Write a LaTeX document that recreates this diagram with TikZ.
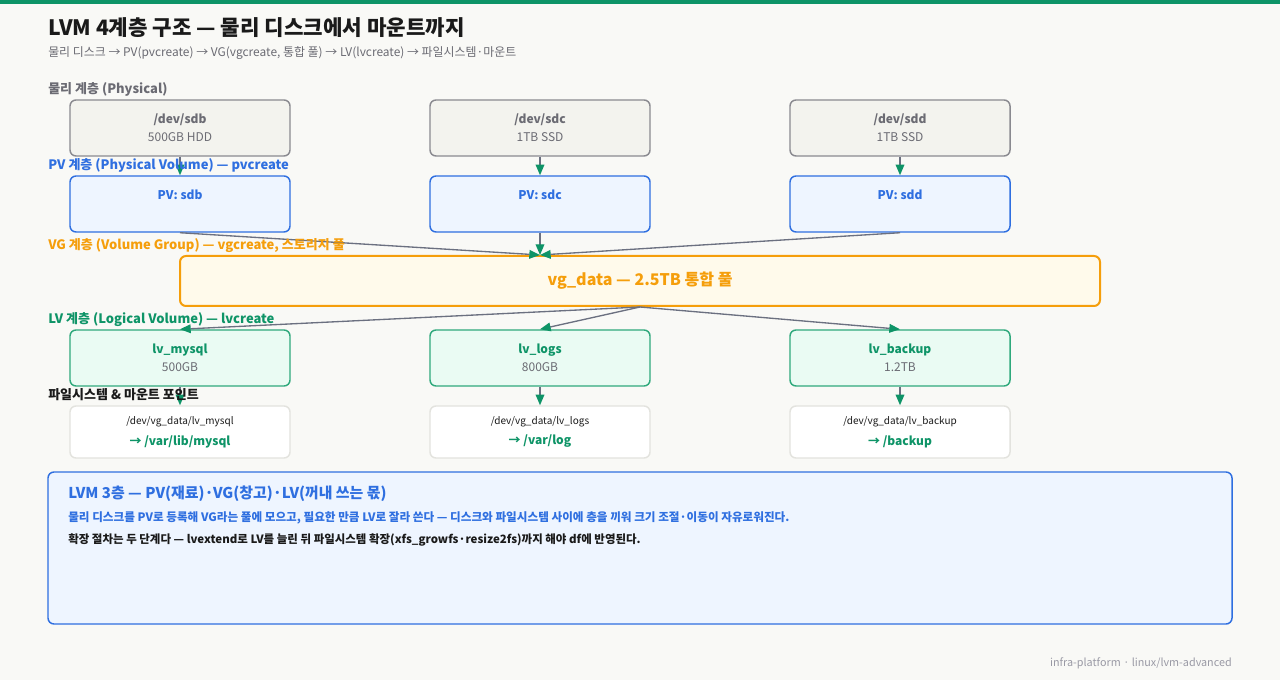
\documentclass[tikz,border=0pt]{standalone}
\usepackage{fontspec}
\setmainfont{Noto Sans CJK KR}
\usetikzlibrary{arrows.meta,positioning}
\definecolor{paper}{HTML}{F9F9F6}
\definecolor{topbar}{HTML}{0E9467}
\definecolor{muted}{HTML}{6B6B73}
\definecolor{wire}{HTML}{6B7080}
\definecolor{physlt}{HTML}{F3F3EE}
\definecolor{physdk}{HTML}{8A8A90}
\definecolor{accent}{HTML}{2F6FE0}
\definecolor{accentlt}{HTML}{EEF5FF}
\definecolor{pool}{HTML}{F59E0B}
\definecolor{poollt}{HTML}{FFFAEB}
\definecolor{good}{HTML}{0E9467}
\definecolor{goodbd}{HTML}{2FA97C}
\definecolor{goodlt}{HTML}{EAFBF3}
\definecolor{fsline}{HTML}{E3E3DE}
\definecolor{ink}{HTML}{1A1A1A}
\definecolor{foot}{HTML}{9A9AA5}
\tikzset{
  box/.style={rounded corners=4.5pt, align=center, line width=1.1pt,
              minimum width=165pt, minimum height=42pt, inner sep=2pt},
  physbox/.style={box, fill=physlt, draw=physdk, text=muted, font=\fontsize{9}{13.5}\selectfont},
  pvbox/.style={box, fill=accentlt, draw=accent, text=accent, font=\bfseries\fontsize{9}{13.5}\selectfont},
  vgbox/.style={box, fill=poollt, draw=pool, text=pool, line width=1.5pt,
                minimum width=690pt, minimum height=37.5pt, font=\bfseries\fontsize{12}{14}\selectfont},
  lvbox/.style={box, fill=goodlt, draw=goodbd, text=good, font=\fontsize{9}{13.5}\selectfont},
  fsbox/.style={box, fill=white, draw=fsline, minimum height=39pt, text=good},
  ar/.style={-{Triangle[length=8pt, width=6.5pt, color=good]}, line width=1pt, draw=wire},
  layer/.style={anchor=base west, font=\bfseries\fontsize{9.75}{12}\selectfont, inner sep=0pt}
}

\begin{document}
\begin{tikzpicture}[x=0.75pt,y=-0.75pt]
  \useasboundingbox (0,0) rectangle (1280,680);
  \fill[paper] (0,0) rectangle (1280,680);
  \fill[topbar] (0,0) rectangle (1280,4);

  % title
  \node[anchor=base west, inner sep=0pt, font=\bfseries\fontsize{15.9}{18}\selectfont, text=ink] (title) at (48,36)
      {LVM 4계층 구조 — 물리 디스크에서 마운트까지};
  \node[anchor=base west, inner sep=0pt, font=\fontsize{8.95}{10}\selectfont, text=muted] (sub) at (48,57)
      {물리 디스크 → PV(pvcreate) → VG(vgcreate, 통합 풀) → LV(lvcreate) → 파일시스템·마운트};

  % layers
  \node[layer, text=muted] (lphys) at (48,94) {물리 계층 (Physical)};
  \node[physbox] (sdb) at (180,128) {\textbf{/dev/sdb}\\500GB HDD};
  \node[physbox] (sdc) at (540,128) {\textbf{/dev/sdc}\\1TB SSD};
  \node[physbox] (sdd) at (900,128) {\textbf{/dev/sdd}\\1TB SSD};

  \node[pvbox] (pvb) at (180,204) {PV: sdb\\\phantom{x}};
  \node[pvbox] (pvc) at (540,204) {PV: sdc\\\phantom{x}};
  \node[pvbox] (pvd) at (900,204) {PV: sdd\\\phantom{x}};

  \node[vgbox] (vg) at (640,281) {vg\_data — 2.5TB 통합 풀};

  \node[lvbox] (lvm) at (180,358) {\textbf{lv\_mysql}\\{\color{muted}500GB}};
  \node[lvbox] (lvl) at (540,358) {\textbf{lv\_logs}\\{\color{muted}800GB}};
  \node[lvbox] (lvk) at (900,358) {\textbf{lv\_backup}\\{\color{muted}1.2TB}};

  \node[fsbox] (fsm) at (180,432) {{\fontsize{7.5}{12}\selectfont\color{ink}/dev/vg\_data/lv\_mysql}\\[3.5pt]{\bfseries\fontsize{9}{12}\selectfont → /var/lib/mysql}};
  \node[fsbox] (fsl) at (540,432) {{\fontsize{7.5}{12}\selectfont\color{ink}/dev/vg\_data/lv\_logs}\\[3.5pt]{\bfseries\fontsize{9}{12}\selectfont → /var/log}};
  \node[fsbox] (fsk) at (900,432) {{\fontsize{7.5}{12}\selectfont\color{ink}/dev/vg\_data/lv\_backup}\\[3.5pt]{\bfseries\fontsize{9}{12}\selectfont → /backup}};

  \draw[ar] (sdb) -- (pvb);
  \draw[ar] (sdc) -- (pvc);
  \draw[ar] (sdd) -- (pvd);
  \draw[ar] (pvb.south) -- (vg.north -| pvc);
  \draw[ar] (pvc.south) -- (vg.north -| pvc);
  \draw[ar] (pvd.south) -- (vg.north -| pvc);
  \draw[ar] (vg.south) -- (lvm.north);
  \draw[ar] (vg.south) -- (lvl.north);
  \draw[ar] (vg.south) -- (lvk.north);
  \draw[ar] (lvm) -- (fsm);
  \draw[ar] (lvl) -- (fsl);
  \draw[ar] (lvk) -- (fsk);

  \node[layer, text=accent] (lpv) at (48,170) {PV 계층 (Physical Volume) — pvcreate};
  \node[layer, text=pool] (lvg) at (48,250) {VG 계층 (Volume Group) — vgcreate, 스토리지 풀};
  \node[layer, text=good] (llv) at (48,324) {LV 계층 (Logical Volume) — lvcreate};
  \node[layer, text=ink] (lfs) at (48,400) {파일시스템 \& 마운트 포인트};

  % summary panel
  \draw[fill=accentlt, draw=accent, line width=1.1pt, rounded corners=4.5pt] (48,472) rectangle (1232,624);
  \node[anchor=base west, inner sep=0pt, text=accent, font=\bfseries\fontsize{11.2}{13}\selectfont] (ptitle) at (68,498)
      {LVM 3층 — PV(재료)·VG(창고)·LV(꺼내 쓰는 몫)};
  \node[anchor=base west, inner sep=0pt, text=accent, font=\bfseries\fontsize{8.7}{10}\selectfont] (pline1) at (68,521)
      {물리 디스크를 PV로 등록해 VG라는 풀에 모으고, 필요한 만큼 LV로 잘라 쓴다 — 디스크와 파일시스템 사이에 층을 끼워 크기 조절·이동이 자유로워진다.};
  \node[anchor=base west, inner sep=0pt, text=ink, font=\bfseries\fontsize{8.6}{10}\selectfont] (pline2) at (68,543)
      {확장 절차는 두 단계다 — lvextend로 LV를 늘린 뒤 파일시스템 확장(xfs\_growfs·resize2fs)까지 해야 df에 반영된다.};

  \node[anchor=base east, inner sep=0pt, text=foot, font=\fontsize{8.1}{10}\selectfont] (footer) at (1232,666)
      {infra-platform · linux/lvm-advanced};
\end{tikzpicture}
\end{document}
